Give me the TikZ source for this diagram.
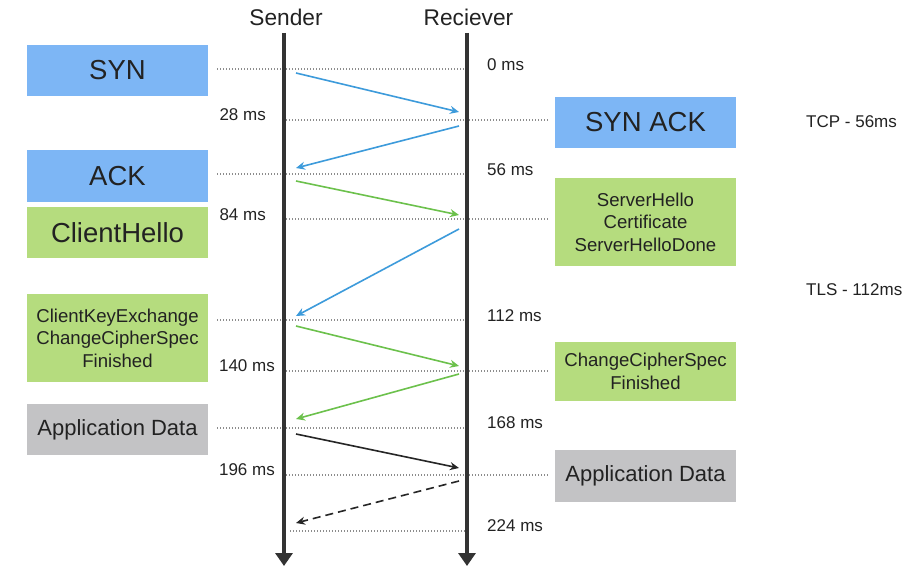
\documentclass[tikz,border=0pt]{standalone}
\usepackage{fontspec}
\setmainfont{Liberation Sans}
\usetikzlibrary{arrows.meta}
\definecolor{synblue}{HTML}{7DB6F5}
\definecolor{tlsgreen}{HTML}{B5DC7E}
\definecolor{appgray}{HTML}{C3C3C5}
\definecolor{arrblue}{HTML}{3D9BDB}
\definecolor{arrgreen}{HTML}{6CC14C}
\definecolor{txt}{HTML}{222222}
\definecolor{life}{HTML}{333333}
\tikzset{
  box/.style={draw=none, minimum width=181pt, inner sep=0pt, align=center, text=txt},
  bigtxt/.style={font=\fontsize{27.5}{30}\selectfont},
  midtxt/.style={font=\fontsize{22}{24}\selectfont},
  smalltxt/.style={font=\fontsize{18.6}{22.5}\selectfont},
  timelbl/.style={font=\fontsize{17}{20}\selectfont, text=txt, inner sep=0pt},
  header/.style={font=\fontsize{22.7}{26}\selectfont, text=txt, inner sep=0pt},
  lifeline/.style={draw=life, line width=4pt, -{Triangle[width=17pt,length=13pt]}},
  tick/.style={draw=gray!90, line width=1.1pt, dash pattern=on 1.3pt off 1.7pt},
  msg/.style={line width=1.6pt, -{Stealth[length=9pt,width=8pt]}},
}
\begin{document}
\begin{tikzpicture}[x=1pt,y=-1pt]
\useasboundingbox[fill=white] (0,0) rectangle (917,567);
% headers
\node[header] (hs) at (286,17) {Sender};
\node[header] (hr) at (468.5,17) {Reciever};
% lifelines
\coordinate (st) at (284,33); \coordinate (sb) at (284,566);
\coordinate (rt) at (467,33); \coordinate (rb) at (467,566);
% left boxes
\node[box, fill=synblue, bigtxt, minimum height=51pt] (syn) at (117.5,70.5) {SYN};
\node[box, fill=synblue, bigtxt, minimum height=52pt] (ack) at (117.5,176) {ACK};
\node[box, fill=tlsgreen, bigtxt, minimum height=51pt] (ch) at (117.5,232.5) {ClientHello};
\node[box, fill=tlsgreen, smalltxt, minimum height=88pt] (cke) at (117.5,338) {ClientKeyExchange\\ChangeCipherSpec\\Finished};
\node[box, fill=appgray, midtxt, minimum height=51pt] (adl) at (117.5,429.5) {Application Data};
% right boxes
\node[box, fill=synblue, bigtxt, minimum height=51pt] (synack) at (645.5,122.5) {SYN ACK};
\node[box, fill=tlsgreen, smalltxt, minimum height=88pt] (sh) at (645.5,222) {ServerHello\\Certificate\\ServerHelloDone};
\node[box, fill=tlsgreen, smalltxt, minimum height=59pt] (ccs) at (645.5,371.5) {ChangeCipherSpec\\Finished};
\node[box, fill=appgray, midtxt, minimum height=52pt] (adr) at (645.5,476) {Application Data};
% tick lines
\coordinate (t0a) at (217,69);  \coordinate (t0b) at (466,69);
\coordinate (t1a) at (286,120); \coordinate (t1b) at (548,120);
\coordinate (t2a) at (217,174); \coordinate (t2b) at (466,174);
\coordinate (t3a) at (286,219); \coordinate (t3b) at (548,219);
\coordinate (t4a) at (217,320); \coordinate (t4b) at (466,320);
\coordinate (t5a) at (286,371); \coordinate (t5b) at (548,371);
\coordinate (t6a) at (217,428); \coordinate (t6b) at (466,428);
\coordinate (t7a) at (286,475); \coordinate (t7b) at (548,475);
\coordinate (t8a) at (290,531); \coordinate (t8b) at (467,531);
\foreach \i in {0,...,8} {\draw[tick] (t\i a) -- (t\i b);}
% lifelines drawn over ticks
\draw[lifeline] (st) -- (sb);
\draw[lifeline] (rt) -- (rb);
% time labels
\node[timelbl, anchor=west] (l0) at (487,65) {0 ms};
\node[timelbl, anchor=east] (l28) at (266,115) {28 ms};
\node[timelbl, anchor=west] (l56) at (487,170) {56 ms};
\node[timelbl, anchor=east] (l84) at (266,215) {84 ms};
\node[timelbl, anchor=west] (l112) at (487,316) {112 ms};
\node[timelbl, anchor=east] (l140) at (275,366) {140 ms};
\node[timelbl, anchor=west] (l168) at (487,423) {168 ms};
\node[timelbl, anchor=east] (l196) at (275,470) {196 ms};
\node[timelbl, anchor=west] (l224) at (487,526) {224 ms};
\node[timelbl, anchor=west] (tcp) at (806,122) {TCP - 56ms};
\node[timelbl, anchor=west] (tls) at (806,290) {TLS - 112ms};
% messages
\coordinate (a1s) at (296,73);  \coordinate (a1e) at (459,112);
\coordinate (a2s) at (459,126); \coordinate (a2e) at (296,168);
\coordinate (a3s) at (296,181); \coordinate (a3e) at (459,215);
\coordinate (a4s) at (459,229); \coordinate (a4e) at (296,316);
\coordinate (a5s) at (296,326); \coordinate (a5e) at (459,366);
\coordinate (a6s) at (459,374); \coordinate (a6e) at (296,419);
\coordinate (a7s) at (296,434); \coordinate (a7e) at (459,468);
\coordinate (a8s) at (459,481); \coordinate (a8e) at (296,523);
\draw[msg, arrblue] (a1s) -- (a1e);
\draw[msg, arrblue] (a2s) -- (a2e);
\draw[msg, arrgreen] (a3s) -- (a3e);
\draw[msg, arrblue] (a4s) -- (a4e);
\draw[msg, arrgreen] (a5s) -- (a5e);
\draw[msg, arrgreen] (a6s) -- (a6e);
\draw[msg, black!85] (a7s) -- (a7e);
\draw[msg, black!85, dash pattern=on 8pt off 5pt] (a8s) -- (a8e);
\end{tikzpicture}
\end{document}
